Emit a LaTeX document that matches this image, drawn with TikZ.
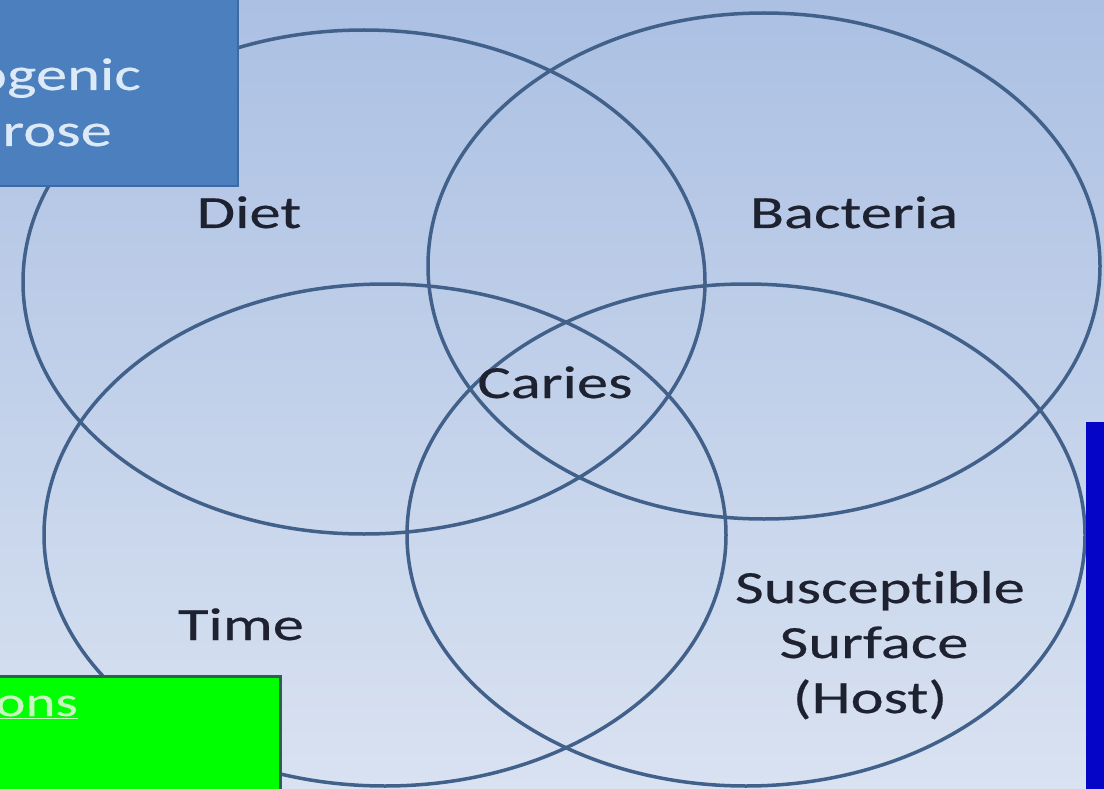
\documentclass[tikz,border=0pt]{standalone}
\usepackage{fontspec}
\setmainfont{Carlito}[FakeStretch=1.36, Ligatures=NoCommon, FakeBold=0.4]
\definecolor{bgtop}{HTML}{ABC0E3}
\definecolor{bgbot}{HTML}{D9E2F1}
\definecolor{ringc}{HTML}{41618A}
\definecolor{txtc}{HTML}{1E2230}
\definecolor{boxblue}{HTML}{4B7FBD}
\definecolor{boxblueline}{HTML}{3D6AA3}
\definecolor{boxtxt}{HTML}{DCE9F7}
\definecolor{grn}{HTML}{00FF00}
\definecolor{grnline}{HTML}{2F5F4F}
\definecolor{grntxt}{HTML}{C8F5C0}
\definecolor{barblue}{HTML}{0505C8}
\tikzset{
  ring/.style={draw=ringc, line width=3.5pt},
  lbl/.style={text=txtc, inner sep=0pt, font=\fontsize{46}{55}\selectfont},
  boxlbl/.style={text=boxtxt, inner sep=0pt, font=\fontsize{46}{55}\selectfont},
}
\begin{document}
\begin{tikzpicture}[x=1pt,y=-1pt]
\useasboundingbox (0,0) rectangle (1104,789);
\shade[top color=bgtop, bottom color=bgbot] (0,0) rectangle (1104,789);
% four circles
\draw[ring] (364,282) ellipse [x radius=341, y radius=252];
\draw[ring] (764,266) ellipse [x radius=336, y radius=253];
\draw[ring] (385,535) ellipse [x radius=341, y radius=251];
\draw[ring] (746,535) ellipse [x radius=339, y radius=251];
% labels
\node[lbl, anchor=base] (diet) at (249,228) {Diet};
\node[lbl, anchor=base] (bact) at (854,228) {Bacteria};
\node[lbl, anchor=base] (caries) at (555,398) {Caries};
\node[lbl, anchor=base] (time) at (241,640) {Time};
\node[lbl, anchor=base] (sus1) at (880,603) {Susceptible};
\node[lbl, anchor=base] (sus2) at (874,658) {Surface};
\node[lbl, anchor=base] (sus3) at (870,713) {(Host)};
% blue box top-left
\draw[fill=boxblue, draw=boxblueline, line width=2pt] (-5,-5) rectangle (238,186);
\node[boxlbl, anchor=base east] (cario) at (141,90) {ogenic};
\node[boxlbl, anchor=base east] (sucr) at (112,146) {rose};
% green box bottom-left
\draw[fill=grn, draw=grnline, line width=3pt] (-5,676) rectangle (280,800);
\node[text=grntxt, inner sep=0pt, font=\fontsize{42}{48}\selectfont, anchor=base east] (opts) at (78,716) {\underline{ons}};
% blue bar right
\fill[barblue] (1086,422) rectangle (1110,800);
\end{tikzpicture}
\end{document}
